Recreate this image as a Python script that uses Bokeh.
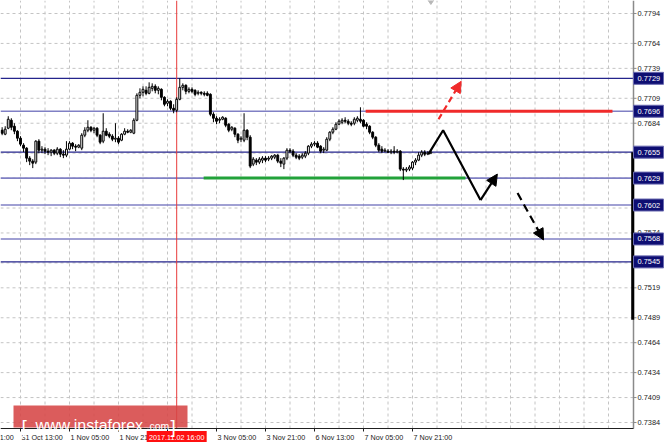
from bokeh.plotting import figure
from bokeh.models import Range1d, Arrow, NormalHead
from bokeh.core.properties import value
from bokeh.embed import file_html
from bokeh.resources import INLINE

# Hourly candles, 31 Oct - 8 Nov 2017 (bar 0 = 31 Oct 07:00)
bar_open = [
    0.7677, 0.7673, 0.7679, 0.7687, 0.7681, 0.7676, 0.7669, 0.7662, 0.7659, 0.7649,
    0.7646, 0.7645, 0.7666, 0.7657, 0.7658, 0.7656, 0.7655, 0.7657, 0.7654, 0.7658,
    0.7653, 0.7652, 0.7658, 0.7664, 0.7661, 0.7660, 0.7659, 0.7672, 0.7677, 0.7680,
    0.7677, 0.7679, 0.7672, 0.7666, 0.7676, 0.7673, 0.7671, 0.7668, 0.7669, 0.7667,
    0.7673, 0.7676, 0.7675, 0.7674, 0.7687, 0.7712, 0.7715, 0.7717, 0.7714, 0.7719,
    0.7721, 0.7717, 0.7718, 0.7710, 0.7704, 0.7706, 0.7699, 0.7697, 0.7708, 0.7720,
    0.7722, 0.7716, 0.7718, 0.7717, 0.7714, 0.7715, 0.7714, 0.7714, 0.7713, 0.7693,
    0.7689, 0.7687, 0.7688, 0.7689, 0.7683, 0.7678, 0.7679, 0.7673, 0.7668, 0.7667,
    0.7677, 0.7670, 0.7643, 0.7647, 0.7645, 0.7647, 0.7649, 0.7648, 0.7649, 0.7650,
    0.7652, 0.7646, 0.7643, 0.7649, 0.7657, 0.7656, 0.7652, 0.7651, 0.7650, 0.7651,
    0.7654, 0.7661, 0.7663, 0.7664, 0.7661, 0.7657, 0.7657, 0.7668, 0.7675, 0.7678,
    0.7683, 0.7685, 0.7687, 0.7686, 0.7684, 0.7684, 0.7687, 0.7688, 0.7687, 0.7683,
    0.7681, 0.7675, 0.7670, 0.7662, 0.7658, 0.7656, 0.7656, 0.7655, 0.7656, 0.7655,
    0.7656, 0.7638, 0.7637, 0.7638, 0.7639, 0.7645, 0.7647, 0.7652, 0.7655, 0.7653,
    0.7654,
]
bar_high = [
    0.7680, 0.7681, 0.7691, 0.7689, 0.7684, 0.7677, 0.7671, 0.7664, 0.7660, 0.7651,
    0.7648, 0.7667, 0.7668, 0.7661, 0.7660, 0.7659, 0.7658, 0.7658, 0.7660, 0.7659,
    0.7657, 0.7666, 0.7666, 0.7665, 0.7663, 0.7663, 0.7674, 0.7680, 0.7687, 0.7681,
    0.7680, 0.7680, 0.7673, 0.7694, 0.7679, 0.7675, 0.7673, 0.7684, 0.7671, 0.7674,
    0.7679, 0.7678, 0.7678, 0.7689, 0.7714, 0.7719, 0.7721, 0.7721, 0.7725, 0.7724,
    0.7723, 0.7721, 0.7719, 0.7711, 0.7708, 0.7707, 0.7703, 0.7710, 0.7729, 0.7724,
    0.7723, 0.7720, 0.7720, 0.7718, 0.7717, 0.7716, 0.7716, 0.7716, 0.7714, 0.7695,
    0.7691, 0.7690, 0.7691, 0.7690, 0.7684, 0.7681, 0.7680, 0.7674, 0.7671, 0.7694,
    0.7678, 0.7672, 0.7650, 0.7649, 0.7650, 0.7651, 0.7651, 0.7651, 0.7652, 0.7653,
    0.7653, 0.7649, 0.7650, 0.7659, 0.7659, 0.7658, 0.7654, 0.7653, 0.7654, 0.7656,
    0.7662, 0.7665, 0.7666, 0.7666, 0.7662, 0.7660, 0.7670, 0.7676, 0.7680, 0.7685,
    0.7688, 0.7689, 0.7690, 0.7688, 0.7686, 0.7690, 0.7691, 0.7700, 0.7688, 0.7685,
    0.7682, 0.7676, 0.7671, 0.7664, 0.7661, 0.7659, 0.7658, 0.7658, 0.7661, 0.7658,
    0.7657, 0.7640, 0.7640, 0.7642, 0.7646, 0.7649, 0.7655, 0.7657, 0.7657, 0.7656,
    0.7657,
]
bar_low = [
    0.7672, 0.7672, 0.7678, 0.7677, 0.7673, 0.7666, 0.7661, 0.7655, 0.7645, 0.7642,
    0.7639, 0.7643, 0.7654, 0.7654, 0.7653, 0.7652, 0.7651, 0.7652, 0.7652, 0.7650,
    0.7649, 0.7650, 0.7657, 0.7658, 0.7656, 0.7659, 0.7657, 0.7670, 0.7675, 0.7675,
    0.7674, 0.7670, 0.7663, 0.7664, 0.7671, 0.7669, 0.7666, 0.7665, 0.7663, 0.7666,
    0.7672, 0.7674, 0.7674, 0.7673, 0.7686, 0.7709, 0.7711, 0.7712, 0.7713, 0.7716,
    0.7714, 0.7713, 0.7707, 0.7701, 0.7701, 0.7697, 0.7694, 0.7695, 0.7707, 0.7717,
    0.7713, 0.7714, 0.7714, 0.7711, 0.7712, 0.7712, 0.7711, 0.7711, 0.7691, 0.7685,
    0.7683, 0.7684, 0.7687, 0.7680, 0.7675, 0.7676, 0.7670, 0.7664, 0.7665, 0.7665,
    0.7667, 0.7639, 0.7641, 0.7642, 0.7643, 0.7644, 0.7645, 0.7646, 0.7647, 0.7648,
    0.7644, 0.7640, 0.7638, 0.7647, 0.7654, 0.7650, 0.7648, 0.7647, 0.7648, 0.7649,
    0.7652, 0.7659, 0.7661, 0.7659, 0.7654, 0.7654, 0.7656, 0.7666, 0.7673, 0.7677,
    0.7682, 0.7683, 0.7684, 0.7682, 0.7681, 0.7682, 0.7685, 0.7684, 0.7680, 0.7678,
    0.7673, 0.7668, 0.7660, 0.7655, 0.7654, 0.7655, 0.7654, 0.7653, 0.7653, 0.7654,
    0.7636, 0.7627, 0.7635, 0.7636, 0.7637, 0.7642, 0.7646, 0.7650, 0.7651, 0.7652,
    0.7653,
]
bar_close = [
    0.7674, 0.7678, 0.7688, 0.7680, 0.7676, 0.7669, 0.7663, 0.7659, 0.7649, 0.7646,
    0.7644, 0.7666, 0.7657, 0.7658, 0.7656, 0.7655, 0.7657, 0.7654, 0.7658, 0.7653,
    0.7652, 0.7658, 0.7664, 0.7661, 0.7660, 0.7662, 0.7672, 0.7677, 0.7680, 0.7677,
    0.7679, 0.7672, 0.7665, 0.7676, 0.7672, 0.7671, 0.7668, 0.7669, 0.7665, 0.7673,
    0.7676, 0.7675, 0.7677, 0.7687, 0.7712, 0.7715, 0.7718, 0.7714, 0.7720, 0.7721,
    0.7717, 0.7719, 0.7710, 0.7703, 0.7706, 0.7699, 0.7697, 0.7708, 0.7720, 0.7722,
    0.7716, 0.7718, 0.7716, 0.7713, 0.7715, 0.7714, 0.7713, 0.7712, 0.7693, 0.7689,
    0.7686, 0.7688, 0.7690, 0.7682, 0.7677, 0.7680, 0.7673, 0.7667, 0.7669, 0.7677,
    0.7670, 0.7641, 0.7648, 0.7645, 0.7648, 0.7649, 0.7647, 0.7649, 0.7651, 0.7652,
    0.7646, 0.7644, 0.7649, 0.7657, 0.7656, 0.7652, 0.7650, 0.7649, 0.7652, 0.7654,
    0.7661, 0.7663, 0.7664, 0.7660, 0.7656, 0.7658, 0.7668, 0.7675, 0.7678, 0.7683,
    0.7686, 0.7687, 0.7686, 0.7684, 0.7683, 0.7688, 0.7689, 0.7686, 0.7681, 0.7681,
    0.7675, 0.7670, 0.7662, 0.7657, 0.7656, 0.7657, 0.7655, 0.7656, 0.7655, 0.7656,
    0.7638, 0.7637, 0.7638, 0.7640, 0.7645, 0.7647, 0.7652, 0.7655, 0.7653, 0.7654,
    0.7655,
]

# Price scale ticks and horizontal levels
price_ticks = [0.7794, 0.7764, 0.7739, 0.7709, 0.7684, 0.7654, 0.7629, 0.7599,
               0.7574, 0.7544, 0.7519, 0.7489, 0.7464, 0.7434, 0.7409, 0.7384]
level_prices = [0.7729, 0.7696, 0.7655, 0.7629, 0.7602, 0.7568, 0.7545]
level_strong = [True, False, True, False, False, False, True]

# Time scale (bar index of each label)
time_tick_bars = [-10, 6, 22, 38, 70, 86, 102, 118, 134]
time_tick_labels = ["30 Oct 21:00", "31 Oct 13:00", "1 Nov 05:00", "1 Nov 21:00",
                    "3 Nov 05:00", "3 Nov 21:00", "6 Nov 13:00", "7 Nov 05:00",
                    "7 Nov 21:00"]
time_tick_marks = [6, 22, 38, 54, 70, 86, 102, 118, 134]
time_grid_bars = list(range(-2, 200, 8))
cursor_bar = 57
cursor_label = "2017.11.02 16:00"

# Drawn support / resistance segments: (bar from, bar to, price)
support_segment = (65.8, 151.3, 0.7629)
resistance_segment = (118.7, 199.3, 0.7696)

# Forecast path and scenario arrows (bar, price)
forecast_bars = [139.2, 144.0, 156.2]
forecast_prices = [0.7653, 0.7677, 0.7607]
forecast_rebound = (156.2, 0.7607, 161.7, 0.7633)
breakout_up = (142.5, 0.7688, 149.9, 0.7726)
breakdown = (168.3, 0.7614, 176.8, 0.7567)

# ---- geometry: the plot frame fills the page; the chart pane is 633 x 428 px ----
CANVAS_W, CANVAS_H = 664, 445
PANE_W, PANE_H = 633, 428
PX_PER_BAR = 3.0625
PX_PER_UNIT = 9975.6
X_LEFT = -0.531
Y_TOP = 0.780703


def bx(px):
    return X_LEFT + px / PX_PER_BAR


def py(pyv):
    return Y_TOP - pyv / PX_PER_UNIT


def wx(px):
    return px / PX_PER_BAR


def hy(px):
    return px / PX_PER_UNIT


PANE_RIGHT = bx(PANE_W)
PANE_BOTTOM = py(PANE_H)

FONT = "Liberation Sans"

p = figure(width=CANVAS_W, height=CANVAS_H,
           x_range=Range1d(bx(0), bx(CANVAS_W)), y_range=Range1d(py(CANVAS_H), py(0)),
           x_axis_location=None, y_axis_location=None,
           output_backend="svg", toolbar_location=None,
           min_border=0, min_border_left=0, min_border_right=0,
           min_border_top=0, min_border_bottom=0)
p.background_fill_color = "white"
p.border_fill_color = "white"
p.outline_line_color = None
p.grid.grid_line_color = None

# dashed grid inside the chart pane
n_v = len(time_grid_bars)
p.segment(x0=time_grid_bars, y0=[PANE_BOTTOM] * n_v, x1=time_grid_bars, y1=[Y_TOP] * n_v,
          line_color="#c4c4c4", line_width=1, line_dash="3 3")
n_h = len(price_ticks)
p.segment(x0=[X_LEFT] * n_h, y0=price_ticks, x1=[PANE_RIGHT] * n_h, y1=price_ticks,
          line_color="#c4c4c4", line_width=1, line_dash="3 3")

# horizontal levels
n_l = len(level_prices)
p.segment(x0=[X_LEFT] * n_l, y0=level_prices, x1=[PANE_RIGHT] * n_l, y1=level_prices,
          line_color=["#24248c" if s else "#8080c4" for s in level_strong],
          line_width=[1.2 if s else 1.6 for s in level_strong])

# crosshair
p.segment(x0=[cursor_bar], y0=[PANE_BOTTOM], x1=[cursor_bar], y1=[Y_TOP],
          line_color="#e83a3a", line_width=1)

# support / resistance segments
s0, s1, sp = support_segment
p.segment(x0=[s0], y0=[sp], x1=[s1], y1=[sp], line_color="#22a23a", line_width=3)
r0, r1, rp = resistance_segment
p.segment(x0=[r0], y0=[rp], x1=[r1], y1=[rp], line_color="#f02a2a", line_width=3)

# candles
idx = list(range(len(bar_close)))
body_top = [max(o, c) for o, c in zip(bar_open, bar_close)]
body_bot = [min(o, c) for o, c in zip(bar_open, bar_close)]
body_fill = ["white" if c >= o else "black" for o, c in zip(bar_open, bar_close)]
p.segment(x0=idx, y0=bar_low, x1=idx, y1=bar_high, line_color="black", line_width=1)
p.vbar(x=idx, width=0.62, top=body_top, bottom=body_bot, fill_color=body_fill,
       line_color="black", line_width=1)

# forecast path
p.line(forecast_bars, forecast_prices, line_color="black", line_width=2.2)
p.add_layout(Arrow(end=NormalHead(size=11, fill_color="black", line_color="black"),
                   x_start=forecast_rebound[0], y_start=forecast_rebound[1],
                   x_end=forecast_rebound[2], y_end=forecast_rebound[3],
                   line_color="black", line_width=2.2))
p.add_layout(Arrow(end=NormalHead(size=11, fill_color="#f02a2a", line_color="#f02a2a"),
                   x_start=breakout_up[0], y_start=breakout_up[1],
                   x_end=breakout_up[2], y_end=breakout_up[3],
                   line_color="#f02a2a", line_width=2.2, line_dash="6 4"))
p.add_layout(Arrow(end=NormalHead(size=11, fill_color="black", line_color="black"),
                   x_start=breakdown[0], y_start=breakdown[1],
                   x_end=breakdown[2], y_end=breakdown[3],
                   line_color="black", line_width=2.2, line_dash="8 5"))

# small marker clipped at the top edge
p.scatter([140], [Y_TOP + hy(2)], marker="diamond", size=12, fill_color="#b8b8b8",
          line_color="#b8b8b8")

# ---- price scale ----
p.segment(x0=[PANE_RIGHT], y0=[PANE_BOTTOM], x1=[PANE_RIGHT], y1=[Y_TOP],
          line_color="#8a8a8a", line_width=1.5)
p.segment(x0=[PANE_RIGHT] * n_h, y0=price_ticks, x1=[PANE_RIGHT + wx(3)] * n_h,
          y1=price_ticks, line_color="#8a8a8a", line_width=1)
p.segment(x0=[PANE_RIGHT - wx(0.8)], y0=[0.7655], x1=[PANE_RIGHT - wx(0.8)], y1=[0.7487],
          line_color="black", line_width=3)
p.text(x=[PANE_RIGHT + wx(4)] * n_h, y=price_ticks, text=[f"{t:.4f}" for t in price_ticks],
       text_font=value(FONT), text_font_size="7.4px", text_color="#222222",
       text_align="left", text_baseline="middle")
p.rect(x=[bx(648)] * n_l, y=level_prices, width=wx(30), height=hy(12),
       fill_color="#0e0e72", line_color="#6a6ab0", line_width=1)
p.text(x=[PANE_RIGHT + wx(4)] * n_l, y=level_prices, text=[f"{v:.4f}" for v in level_prices],
       text_font=value(FONT), text_font_size="7.4px", text_color="white",
       text_align="left", text_baseline="middle")

# ---- time scale ----
p.segment(x0=[X_LEFT], y0=[PANE_BOTTOM], x1=[PANE_RIGHT], y1=[PANE_BOTTOM],
          line_color="#202020", line_width=1)
n_t = len(time_tick_marks)
p.segment(x0=time_tick_marks, y0=[PANE_BOTTOM] * n_t, x1=time_tick_marks,
          y1=[PANE_BOTTOM - hy(3)] * n_t, line_color="#202020", line_width=1)
p.text(x=[b + wx(1) for b in time_tick_bars], y=[py(436.5)] * len(time_tick_bars),
       text=time_tick_labels, text_font=value(FONT), text_font_size="7.2px",
       text_color="#222222", text_align="left", text_baseline="middle")
p.rect(x=[cursor_bar], y=[py(436)], width=wx(60), height=hy(11),
       fill_color="#ff1010", line_color=None)
p.text(x=[cursor_bar], y=[py(436.5)], text=[cursor_label], text_font=value(FONT),
       text_font_size="7.2px", text_color="white", text_align="center",
       text_baseline="middle")

# ---- watermark ----
p.quad(left=[bx(13)], right=[bx(187)], bottom=[PANE_BOTTOM + hy(1)], top=[py(405)],
       fill_color="#d64646", fill_alpha=0.88, line_color=None)
p.text(x=[bx(21), bx(170)], y=[py(426), py(426)], text=["[", "]"],
       text_font=value(FONT), text_font_size="19px", text_color="white",
       text_baseline="alphabetic")
p.text(x=[bx(35)], y=[py(425)], text=["www.instaforex"], text_font=value(FONT),
       text_font_size="16px", text_color="white", text_baseline="alphabetic")
p.text(x=[bx(146)], y=[py(425)], text=[".com"], text_font=value(FONT),
       text_font_size="10.5px", text_color="white", text_baseline="alphabetic")

open("out.html", "w").write(file_html(p, INLINE))
